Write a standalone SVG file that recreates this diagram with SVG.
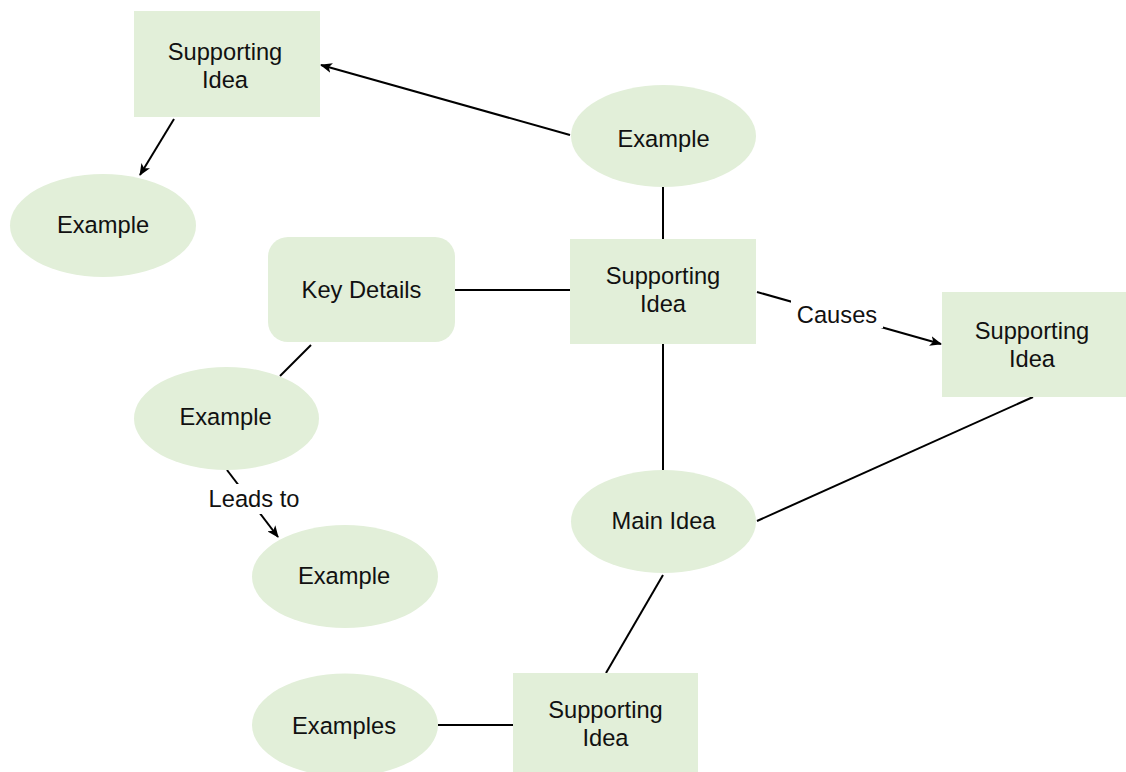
<svg xmlns="http://www.w3.org/2000/svg" width="1126" height="772" viewBox="0 0 1126 772">
<defs>
<style>
.n{fill:#e2efd9;stroke:none}
.t{font-family:"Liberation Sans",Arial,sans-serif;font-size:23.7px;fill:#111;text-anchor:middle}
.c{stroke:#000;stroke-width:2;fill:none}
.lbl{fill:#fff;stroke:none}
</style>
<marker id="arr" viewBox="0 0 12 10" refX="11" refY="5" markerWidth="12" markerHeight="10" markerUnits="userSpaceOnUse" orient="auto">
<path d="M0,0 L12,5 L0,10 L3,5 Z" fill="#000"/>
</marker>
</defs>
<rect width="1126" height="772" fill="#fff"/>
<g id="connectors">
<line class="c" x1="570" y1="135" x2="321" y2="65" marker-end="url(#arr)"/>
<line class="c" x1="174" y1="119" x2="140" y2="175" marker-end="url(#arr)"/>
<line class="c" x1="663" y1="187" x2="663" y2="239"/>
<line class="c" x1="455" y1="290" x2="570" y2="290"/>
<line class="c" x1="757" y1="292" x2="941" y2="344" marker-end="url(#arr)"/>
<line class="c" x1="663" y1="344" x2="663" y2="470"/>
<line class="c" x1="757" y1="521" x2="1033" y2="397"/>
<line class="c" x1="311" y1="345" x2="280" y2="376"/>
<line class="c" x1="227" y1="470" x2="278" y2="537" marker-end="url(#arr)"/>
<line class="c" x1="663" y1="575" x2="606" y2="673"/>
<line class="c" x1="438" y1="725" x2="513" y2="725"/>
<rect class="lbl" x="791" y="300" width="92" height="28"/>
<text class="t" x="837" y="323">Causes</text>
<rect class="lbl" x="203" y="484" width="102" height="30"/>
<text class="t" x="254" y="507">Leads to</text>
</g>
<g id="si-topleft">
<rect class="n" x="134" y="11" width="186" height="106"/>
<text class="t" x="225" y="60">Supporting</text>
<text class="t" x="225" y="88">Idea</text>
</g>
<g id="ex-top">
<ellipse class="n" cx="663.5" cy="136" rx="92.5" ry="51"/>
<text class="t" x="663.5" y="147">Example</text>
</g>
<g id="ex-left">
<ellipse class="n" cx="103" cy="225.5" rx="93" ry="51.5"/>
<text class="t" x="103" y="233">Example</text>
</g>
<g id="key-details">
<rect class="n" x="268" y="237" width="187" height="105" rx="20" ry="20"/>
<text class="t" x="361.5" y="298">Key Details</text>
</g>
<g id="si-center">
<rect class="n" x="570" y="239" width="186" height="105"/>
<text class="t" x="663" y="284">Supporting</text>
<text class="t" x="663" y="312">Idea</text>
</g>
<g id="si-right">
<rect class="n" x="942" y="292" width="184" height="105"/>
<text class="t" x="1032" y="339">Supporting</text>
<text class="t" x="1032" y="367">Idea</text>
</g>
<g id="ex-mid">
<ellipse class="n" cx="226.5" cy="418.5" rx="92.5" ry="51.5"/>
<text class="t" x="225.5" y="425">Example</text>
</g>
<g id="ex-low">
<ellipse class="n" cx="345" cy="576.5" rx="93" ry="51.5"/>
<text class="t" x="344" y="584">Example</text>
</g>
<g id="main-idea">
<ellipse class="n" cx="663.5" cy="521.5" rx="92.5" ry="51.5"/>
<text class="t" x="663.5" y="529">Main Idea</text>
</g>
<g id="si-bottom">
<rect class="n" x="513" y="673" width="185" height="105"/>
<text class="t" x="605.5" y="718">Supporting</text>
<text class="t" x="605.5" y="746">Idea</text>
</g>
<g id="examples">
<ellipse class="n" cx="345" cy="725" rx="93" ry="51.5"/>
<text class="t" x="344" y="734">Examples</text>
</g>
</svg>
